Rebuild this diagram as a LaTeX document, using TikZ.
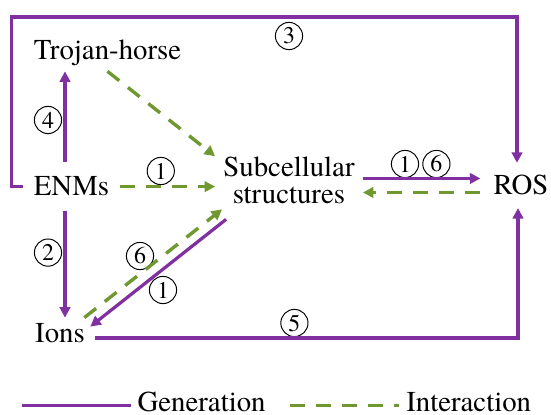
\documentclass[tikz,border=0pt]{standalone}
\usepackage{fontspec}
\setmainfont{TeX Gyre Termes}
\usetikzlibrary{arrows.meta}
\definecolor{genpurple}{RGB}{128,48,160}
\definecolor{intgreen}{RGB}{112,152,48}

\begin{document}
\begin{tikzpicture}
  [every node/.style={font=\fontsize{20.5}{19.2}\selectfont,inner sep=0},
   gen/.style={draw=genpurple,line width=2.3pt},
   inter/.style={draw=intgreen,line width=2.4pt,dash pattern=on 0.375cm off 0.275cm},
   tip/.style={-{Triangle[length=7.5pt,width=7.5pt]}},
   num/.style={circle,draw,line width=0.7pt,minimum size=0.68cm,font=\fontsize{17}{17}\selectfont}]
  \useasboundingbox (0,0) rectangle (13.775,10.375);

  \node[anchor=base,inner sep=0.12cm] (troj) at (2.6875,8.875) {Trojan-horse};
  \node[anchor=base,inner xsep=0.275cm,inner ysep=0.36cm] (enm) at (1.7875,5.475) {ENMs};
  \node[anchor=base,inner xsep=0.25cm,inner ysep=0.15cm] (ions) at (1.5,1.8) {Ions};
  \node[align=center,inner xsep=0.2cm,inner ysep=0] (sub) at (7.225,5.875) {Subcellular\\structures};
  \node[anchor=base,inner xsep=0.325cm,inner ysep=0.31cm] (ros) at (13.025,5.5) {ROS};

  \foreach \n/\x/\y/\d in {c3/7.225/9.475/3,c4/1.2/7.375/4,c1a/4.02/6.1/1,c2/1.2/4.06/2,
      c6a/3.5/3.975/6,c1b/4.075/3.125/1,c5/7.36/2.3/5,c1c/10.125/6.275/1,c6b/10.91/6.275/6}
    \node[num] (\n) at (\x,\y) {\d};

  % generation
  \draw[gen,tip] (enm.west) -- ++(-0.275,0) -- ++(0,4.24) -| ([xshift=-0.1cm]ros.north);
  \draw[gen,tip] ([xshift=-0.1625cm]enm.north) -- ([xshift=-0.1625cm]enm.north |- troj.south);
  \draw[gen,tip] ([xshift=-0.1625cm]enm.south) -- ([xshift=-0.1625cm]enm.south |- ions.north);
  \draw[gen,tip] ([yshift=0.175cm]ros.west -| sub.east) -- ([yshift=0.175cm]ros.west);
  \draw[gen,tip] ([shift={(0.275,-0.39)}]sub.south west) -- ([shift={(-0.12,-0.225)}]ions.north east);
  \draw[gen,tip] ([yshift=-0.11cm]ions.east) -| ([xshift=-0.075cm]ros.south);

  % interaction
  \draw[inter,tip] (enm.east) -- (enm.east -| sub.west);
  \draw[inter,tip] (troj.south) -- (sub.north west);
  \draw[inter,tip] ([yshift=-0.175cm]ros.west) -- ([yshift=-0.175cm]ros.west -| sub.east);
  \draw[inter,tip] ([xshift=-0.27cm]ions.north east) -- ([shift={(0.175,-0.14)}]sub.south west);

  % legend
  \coordinate (g0) at (0.5425,0.2325);
  \node[anchor=base west,inner xsep=0.165cm] (lgen) at (3.2675,0.075) {Generation};
  \draw[gen] (g0) -- (g0 -| lgen.west);
  \coordinate (i0) at (7.25,0.2325);
  \node[anchor=base west,inner xsep=0.175cm] (lint) at (9.975,0.075) {Interaction};
  \draw[inter] (i0) -- (i0 -| lint.west);
\end{tikzpicture}
\end{document}
